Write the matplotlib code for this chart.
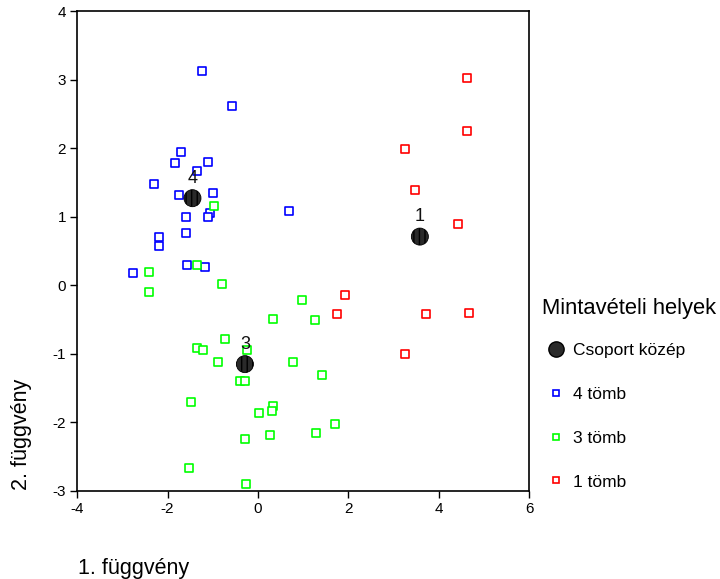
import matplotlib
matplotlib.use("Agg")
import matplotlib.pyplot as plt
from matplotlib.lines import Line2D

plt.rcParams['font.family'] = ['Liberation Sans', 'DejaVu Sans']
plt.rcParams['axes.unicode_minus'] = False

# Discriminant scores per sampling site
blue_x = [-1.25, -0.58, -1.70, -1.84, -1.10, -1.36, -2.30, -1.74, -1.00, -1.07,
          -1.60, -1.10, 0.69, -2.20, -2.20, -1.60, -2.76, -1.57, -1.18]
blue_y = [3.13, 2.61, 1.94, 1.78, 1.80, 1.67, 1.48, 1.32, 1.34, 1.06,
          0.99, 0.99, 1.09, 0.71, 0.57, 0.76, 0.18, 0.29, 0.27]

green_x = [-0.97, -2.41, -1.36, -0.79, -2.41, 0.97, 0.34, -0.72, -1.36, -1.21,
           -0.25, -0.89, 0.77, -0.39, -0.28, -1.49, 0.34, 0.30, 0.02, 0.27,
           -0.29, -1.53, -0.26, 1.25, 1.42, 1.71, 1.28]
green_y = [1.15, 0.20, 0.29, 0.02, -0.10, -0.21, -0.49, -0.79, -0.91, -0.95,
           -0.95, -1.12, -1.12, -1.39, -1.39, -1.70, -1.76, -1.84, -1.86, -2.19,
           -2.24, -2.67, -2.90, -0.51, -1.31, -2.02, -2.16]

red_x = [4.63, 4.63, 3.26, 3.47, 4.42, 1.92, 1.75, 3.72, 4.67, 3.26]
red_y = [3.03, 2.25, 1.99, 1.39, 0.90, -0.14, -0.42, -0.42, -0.40, -1.00]

# Group centroids
cent_labels = ["1", "3", "4"]
cent_x = [3.58, -0.29, -1.45]
cent_y = [0.71, -1.15, 1.27]

xticks = [-4, -2, 0, 2, 4, 6]
yticks = [-3, -2, -1, 0, 1, 2, 3, 4]

fig = plt.figure(figsize=(7.2, 5.79), dpi=100)
ax = fig.add_axes([0.1072, 0.152, 0.6279, 0.829])

sq = dict(marker='s', s=30, facecolors='white', linewidths=1.2)
ax.scatter(blue_x, blue_y, edgecolors='#0000ff', **sq, zorder=3)
ax.scatter(green_x, green_y, edgecolors='#00ff00', **sq, zorder=3)
ax.scatter(red_x, red_y, edgecolors='#ff0000', **sq, zorder=3)

ax.scatter(cent_x, cent_y, marker='o', s=150, facecolors='#2a2a2a',
           edgecolors='black', hatch='|||', linewidths=0.6, zorder=4)
for lab, cx, cy in zip(cent_labels, cent_x, cent_y):
    ax.annotate(lab, (cx, cy), xytext=(0, 8), textcoords='offset points',
                ha='center', va='bottom', fontsize=13, color='#111111', zorder=5)

ax.set_xlim(-4, 6)
ax.set_ylim(-3, 4)
ax.set_xticks(xticks)
ax.set_yticks(yticks)
ax.tick_params(direction='out', length=5, width=1, labelsize=11, colors='black',
               pad=3)
for sp in ax.spines.values():
    sp.set_linewidth(1.2)

fig.text(0.108, 0.0086, "1. függvény", fontsize=15.5, ha='left', va='baseline')
fig.text(0.030, 0.249, "2. függvény", fontsize=15.5, rotation=90,
         ha='center', va='center')

# Legend title and entries
fig.text(0.7524, 0.468, "Mintavételi helyek", fontsize=15.8, ha='left', va='center')

handles = [
    Line2D([], [], marker='o', linestyle='none', markersize=11,
           markerfacecolor='#2a2a2a', markeredgecolor='black'),
    Line2D([], [], marker='s', linestyle='none', markersize=5,
           markerfacecolor='white', markeredgecolor='#0000ff', markeredgewidth=1.2),
    Line2D([], [], marker='s', linestyle='none', markersize=5,
           markerfacecolor='white', markeredgecolor='#00ff00', markeredgewidth=1.2),
    Line2D([], [], marker='s', linestyle='none', markersize=5,
           markerfacecolor='white', markeredgecolor='#ff0000', markeredgewidth=1.2),
]
labels = ["Csoport közép", "4 tömb", "3 tömb", "1 tömb"]
leg = fig.legend(handles, labels, loc='upper left', bbox_to_anchor=(0.7524, 0.4076),
                 frameon=False, fontsize=12.5, labelspacing=1.65,
                 handletextpad=0.1, handlelength=1.7, borderpad=0,
                 borderaxespad=0)

fig.savefig("out.png", dpi=100)
